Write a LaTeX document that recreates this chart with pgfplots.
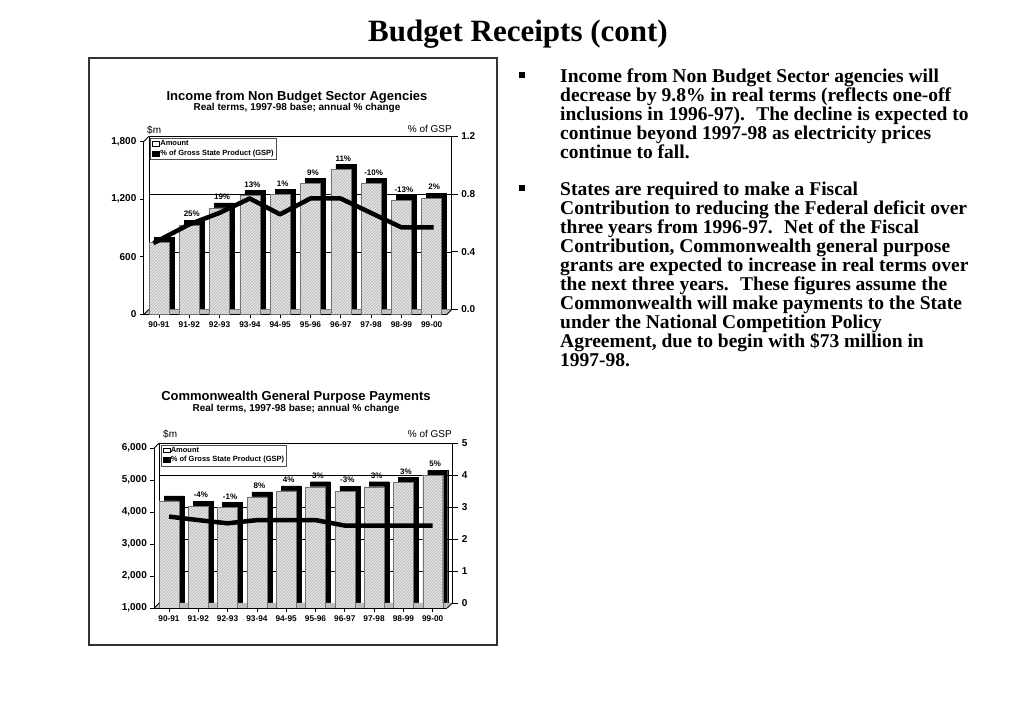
\documentclass[border=0pt]{standalone}
\usepackage{fontspec}
\setmainfont{Liberation Serif}
\newfontfamily\arial{Liberation Sans}
\usepackage{pgfplots}
\usetikzlibrary{patterns}
\pgfplotsset{compat=1.18}
\pgfplotsset{
  backax/.style={anchor=south west, scale only axis, xmin=-0.5, xmax=9.5,
    xtick=\empty, yticklabels={}, major tick length=0pt, ymajorgrids,
    major grid style={black, line width=0.6pt}, axis line style={black, line width=0.7pt},
    ybar, bar width=20pt},
  frontax/.style={anchor=south west, scale only axis, xmin=-0.5, xmax=9.5,
    axis x line*=bottom, axis y line*=left, axis line style={black, line width=0.9pt},
    xtick={0,...,9}, xticklabels={90-91,91-92,92-93,93-94,94-95,95-96,96-97,97-98,98-99,99-00},
    tick align=outside, major tick length=4pt, tick style={black, line width=0.7pt},
    ybar, bar width=20pt,
    /pgf/number format/1000 sep={,}, /pgf/number format/assume math mode=true,
    yticklabel style={font=\arial\bfseries\fontsize{10}{10}\selectfont},
    xticklabel style={font=\arial\bfseries\fontsize{8.3}{8.3}\selectfont},
    nodes near coords, point meta=explicit symbolic,
    nodes near coords style={anchor=south, yshift=7pt, xshift=2.5pt, inner sep=1pt,
      font=\arial\bfseries\fontsize{8}{8}\selectfont}},
  rightax/.style={anchor=south west, scale only axis, xmin=-0.5, xmax=9.5,
    axis x line=none, axis y line*=right, axis line style={black, line width=0.9pt},
    tick align=outside, major tick length=6pt, tick style={black, line width=0.7pt},
    /pgf/number format/assume math mode=true,
    yticklabel style={font=\arial\bfseries\fontsize{10}{10}\selectfont},
    legend style={at={(0.005,0.99)}, anchor=north west, draw=black!70, fill=white,
      font=\arial\bfseries\fontsize{7.5}{8}\selectfont, inner sep=1.5pt, row sep=1.2pt,
      nodes={inner sep=0.8pt}},
    legend cell align=left},
  facebar/.style={fill=black!10, draw=black!55, line width=0.4pt,
    postaction={pattern=north east lines, pattern color=black!30}},
  gspline/.style={black, line width=4.5pt, line join=round, forget plot, no markers}
}
\begin{document}
\begin{tikzpicture}
\path[use as bounding box] (0pt,0pt) rectangle (1023pt,708pt);
\fill[white] (0pt,0pt) rectangle (1023pt,708pt);

% title
\node[anchor=base, inner sep=0pt, font=\bfseries\fontsize{31}{31}\selectfont] at (518pt,666pt) {Budget Receipts (cont)};

% frame
\draw[line width=1.8pt, black!80] (89pt,63pt) rectangle (497pt,650pt);

% ---------------- Chart 1 ----------------
\node[anchor=base, inner sep=0pt, font=\arial\bfseries\fontsize{13}{13}\selectfont] at (297pt,607.5pt) {Income from Non Budget Sector Agencies};
\node[anchor=base, inner sep=0pt, font=\arial\bfseries\fontsize{10}{10}\selectfont] at (297pt,597pt) {Real terms, 1997-98 base; annual \% change};
\node[anchor=base west, inner sep=0pt, font=\arial\fontsize{10}{10}\selectfont] at (147pt,574.5pt) {\$m};
\node[anchor=base east, inner sep=0pt, font=\arial\fontsize{10}{10}\selectfont] at (452pt,575pt) {\% of GSP};

\begin{axis}[backax, at={(148.85pt,398.5pt)}, width=303pt, height=173pt,
  ymin=0, ymax=1800, ytick={600,1200}]
\addplot[fill=black, draw=black] coordinates {(0,750) (1,930) (2,1110) (3,1240) (4,1250) (5,1365) (6,1510) (7,1365) (8,1185) (9,1210)};
\end{axis}
\fill[black!25] (143.85pt,393.5pt) -- (446.85pt,393.5pt) -- (451.85pt,398.5pt) -- (148.85pt,398.5pt) -- cycle;
\begin{axis}[frontax, at={(143.85pt,393.5pt)}, width=303pt, height=173pt,
  ymin=0, ymax=1800, ytick={0,600,1200,1800}]
\addplot[facebar] coordinates {(0,750) [] (1,930) [25\%] (2,1110) [19\%] (3,1240) [13\%] (4,1250) [1\%] (5,1365) [9\%] (6,1510) [11\%] (7,1365) [-10\%] (8,1185) [-13\%] (9,1210) [2\%]};
\end{axis}
\begin{axis}[rightax, at={(148.85pt,398.5pt)}, width=303pt, height=173pt,
  ymin=0, ymax=1.2, ytick={0,0.4,0.8,1.2},
  yticklabel style={/pgf/number format/fixed, /pgf/number format/fixed zerofill, /pgf/number format/precision=1}]
\addlegendimage{legend image code/.code={\draw[black, fill=white, line width=0.5pt] (0pt,-2.3pt) rectangle (7pt,2.3pt);}}
\addlegendentry{Amount}
\addlegendimage{legend image code/.code={\draw[black, fill=black, line width=0.5pt] (0pt,-2.3pt) rectangle (7pt,2.3pt);}}
\addlegendentry{\% of Gross State Product (GSP)}
\addplot[gspline] coordinates {(-0.35,0.46) (0.83,0.59) (1.83,0.67) (2.83,0.77) (3.83,0.66) (4.83,0.77) (5.83,0.77) (6.83,0.67) (7.83,0.57) (8.9,0.57)};
\end{axis}
\draw[line width=0.9pt] (143.85pt,566.5pt) -- (148.85pt,571.5pt);
\draw[line width=0.9pt] (143.85pt,393.5pt) -- (148.85pt,398.5pt);
\draw[line width=0.9pt] (446.85pt,393.5pt) -- (451.85pt,398.5pt);

% ---------------- Chart 2 ----------------
\node[anchor=base, inner sep=0pt, font=\arial\bfseries\fontsize{13}{13}\selectfont] at (296pt,307pt) {Commonwealth General Purpose Payments};
\node[anchor=base, inner sep=0pt, font=\arial\bfseries\fontsize{10}{10}\selectfont] at (296pt,296.5pt) {Real terms, 1997-98 base; annual \% change};
\node[anchor=base west, inner sep=0pt, font=\arial\fontsize{10}{10}\selectfont] at (163pt,270pt) {\$m};
\node[anchor=base east, inner sep=0pt, font=\arial\fontsize{10}{10}\selectfont] at (452pt,270pt) {\% of GSP};

\begin{axis}[backax, at={(159.35pt,105pt)}, width=293pt, height=160pt,
  ymin=1000, ymax=6000, ytick={2000,3000,4000,5000}]
\addplot[fill=black, draw=black] coordinates {(0,4350) (1,4180) (2,4140) (3,4470) (4,4660) (5,4790) (6,4650) (7,4790) (8,4920) (9,5150)};
\end{axis}
\fill[black!25] (154.35pt,100pt) -- (447.35pt,100pt) -- (452.35pt,105pt) -- (159.35pt,105pt) -- cycle;
\begin{axis}[frontax, at={(154.35pt,100pt)}, width=293pt, height=160pt,
  ymin=1000, ymax=6000, ytick={1000,2000,3000,4000,5000,6000}]
\addplot[facebar] coordinates {(0,4350) [] (1,4180) [-4\%] (2,4140) [-1\%] (3,4470) [8\%] (4,4660) [4\%] (5,4790) [3\%] (6,4650) [-3\%] (7,4790) [3\%] (8,4920) [3\%] (9,5150) [5\%]};
\end{axis}
\begin{axis}[rightax, at={(159.35pt,105pt)}, width=293pt, height=160pt,
  ymin=0, ymax=5, ytick={0,1,2,3,4,5}]
\addlegendimage{legend image code/.code={\draw[black, fill=white, line width=0.5pt] (0pt,-2.3pt) rectangle (7pt,2.3pt);}}
\addlegendentry{Amount}
\addlegendimage{legend image code/.code={\draw[black, fill=black, line width=0.5pt] (0pt,-2.3pt) rectangle (7pt,2.3pt);}}
\addlegendentry{\% of Gross State Product (GSP)}
\addplot[gspline] coordinates {(-0.17,2.70) (0.83,2.59) (1.83,2.49) (2.83,2.59) (3.83,2.59) (4.83,2.59) (5.83,2.42) (6.83,2.42) (7.83,2.42) (8.83,2.42)};
\end{axis}
\draw[line width=0.9pt] (154.35pt,260pt) -- (159.35pt,265pt);
\draw[line width=0.9pt] (154.35pt,100pt) -- (159.35pt,105pt);
\draw[line width=0.9pt] (447.35pt,100pt) -- (452.35pt,105pt);

% ---------------- Bullet text ----------------
\fill (519pt,629.5pt) rectangle (525pt,635.5pt);
\node[anchor=base west, inner sep=0pt] at (560pt,625pt) {\parbox[t]{440pt}{\raggedright\bfseries\fontsize{19.5}{19}\selectfont
Income from Non Budget Sector agencies will\\
decrease by 9.8\% in real terms (reflects one-off\\
inclusions in 1996-97). \ The decline is expected to\\
continue beyond 1997-98 as electricity prices\\
continue to fall.}};
\fill (519pt,516.5pt) rectangle (525pt,522.5pt);
\node[anchor=base west, inner sep=0pt] at (560pt,512pt) {\parbox[t]{440pt}{\raggedright\bfseries\fontsize{19.5}{19}\selectfont
States are required to make a Fiscal\\
Contribution to reducing the Federal deficit over\\
three years from 1996-97. \ Net of the Fiscal\\
Contribution, Commonwealth general purpose\\
grants are expected to increase in real terms over\\
the next three years. \ These figures assume the\\
Commonwealth will make payments to the State\\
under the National Competition Policy\\
Agreement, due to begin with \$73 million in\\
1997-98.}};
\end{tikzpicture}
\end{document}
